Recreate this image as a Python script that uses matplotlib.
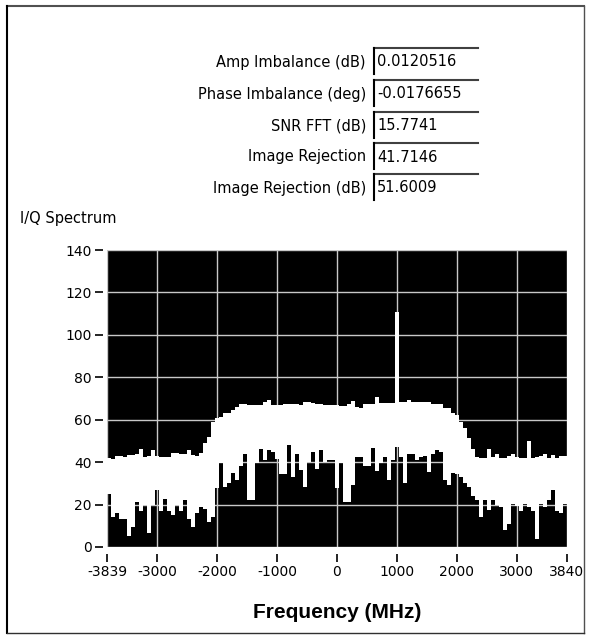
import numpy as np
import matplotlib
matplotlib.use('Agg')
from matplotlib import pyplot as plt

plt.rcParams['axes.unicode_minus'] = False

# measurement readouts shown above the graph
meas_names = ["Amp Imbalance (dB)", "Phase Imbalance (deg)", "SNR FFT (dB)",
              "Image Rejection", "Image Rejection (dB)"]
meas_values = ["0.0120516", "-0.0176655", "15.7741", "41.7146", "51.6009"]

# spectrum band, one value per frequency bin (dB): top and bottom of the trace
f_start = -3839
f_stop = 3840
upper = [42, 41.5, 43, 43, 42.5, 43.5, 43.5, 44, 46, 42.5,
         43, 45.5, 43, 42.5, 42.5, 42.5, 44.5, 44.5, 44, 44,
         45.5, 43.5, 43, 44.5, 49, 52, 59, 61, 61.5, 63,
         63, 64.5, 66, 67.5, 67.5, 67, 67, 67, 67, 68.5,
         69.5, 67, 67, 67, 67.5, 67.5, 67.5, 67.5, 67, 68.5,
         68.5, 68, 67.5, 67.5, 67, 67, 67, 67, 66.5, 66.5,
         67.5, 69, 66, 65.5, 67.5, 67.5, 67.5, 70.5, 68, 68,
         68, 68, 111, 68.5, 68.5, 69.5, 68.5, 68.5, 68.5, 68.5,
         68.5, 67.5, 67.5, 67.5, 65.5, 65.5, 63, 62, 59, 56,
         51.5, 46, 42.5, 42, 42, 46, 42.5, 44, 42, 42,
         43, 44, 42.5, 42, 42, 50, 42, 42.5, 43, 44,
         42, 43.5, 42, 43, 43]
lower = [25, 14, 16, 13, 13, 5, 9.5, 21, 17, 20,
         6.5, 20, 27, 17, 22.5, 17, 15, 20, 17, 22,
         13, 9.5, 16, 19, 18, 12, 14, 28, 39.5, 28.5,
         30, 35, 31.5, 38, 44, 22, 22, 39.5, 46, 41,
         45.5, 45, 41.5, 34.5, 34.5, 48, 33, 44, 36.5, 28.5,
         40, 45, 37, 45.5, 40, 41, 41, 28, 39.5, 21,
         21, 29, 42.5, 42.5, 38, 38, 46.5, 36, 39.5, 42.5,
         31.5, 41, 47, 42.5, 30, 44, 44, 41, 42.5, 43,
         35.5, 44, 45.5, 45, 31.5, 29, 35, 34.5, 33, 30,
         28.5, 24, 22, 14, 22, 17.5, 22, 20, 19, 8,
         11, 20.5, 19.5, 17, 20.5, 19, 17, 4, 20.5, 19,
         22, 27, 17, 16, 20.5]

x_ticks = [-3839, -3000, -2000, -1000, 0, 1000, 2000, 3000, 3840]
y_ticks = [0, 20, 40, 60, 80, 100, 120, 140]

W, H = 592, 639
fig = plt.figure(figsize=(W / 100, H / 100), dpi=100)
fig.patch.set_facecolor('white')

# panel layer in pixel coordinates (frame, readouts, captions)
panel = fig.add_axes([0, 0, 1, 1])
panel.set_xlim(0, W)
panel.set_ylim(H, 0)
panel.axis('off')

panel.plot([7, 584], [6, 6], color='#505050', lw=1.5)
panel.plot([7, 7], [6, 633], color='black', lw=1.5)
panel.plot([584, 584], [6, 633], color='#505050', lw=1.0)
panel.plot([7, 584], [633, 633], color='#303030', lw=1.0)

row_y = [62, 94, 126, 157, 188]
for name, val, y in zip(meas_names, meas_values, row_y):
    panel.text(366, y, name, ha='right', va='center', fontsize=10.5,
               family='DejaVu Sans', color='black')
    panel.plot([374, 478], [y - 14, y - 14], color='#404040', lw=1.5)
    panel.plot([374, 374], [y - 14, y + 12], color='black', lw=1.5)
    panel.text(377, y, val, ha='left', va='center', fontsize=10.5,
               family='DejaVu Sans', color='black')

panel.text(20, 219, "I/Q Spectrum", ha='left', va='center', fontsize=10.5,
           family='DejaVu Sans', color='black')
panel.text(337, 612, "Frequency (MHz)", ha='center', va='center', fontsize=15,
           family='Liberation Sans', fontweight='bold', color='black')

# spectrum graph
ax = fig.add_axes([107 / W, 1 - 547 / H, 460 / W, 297 / H])
ax.set_facecolor('black')

n = len(upper)
edges = np.linspace(f_start, f_stop, n + 1)
top = np.append(upper, upper[-1])
bot = np.append(lower, lower[-1])
ax.fill_between(edges, bot, top, step='post', color='white',
                linewidth=0, zorder=3)

ax.set_xlim(f_start, f_stop)
ax.set_ylim(0, 140)
ax.set_xticks(x_ticks)
ax.set_xticklabels([str(v) for v in x_ticks])
ax.set_yticks(y_ticks)
ax.set_yticklabels([str(v) for v in y_ticks])

ax.set_axisbelow(True)
ax.grid(True, color='#c8c8c8', lw=1.0)

for s in ax.spines.values():
    s.set_visible(False)
ax.spines['bottom'].set_position(('outward', 5))
ax.spines['left'].set_position(('outward', 3))
ax.tick_params(axis='both', direction='out', length=6, width=1.2,
               color='black', labelsize=10, pad=2)
for lab in ax.get_xticklabels() + ax.get_yticklabels():
    lab.set_family('DejaVu Sans')

fig.savefig('out.png', dpi=100)
